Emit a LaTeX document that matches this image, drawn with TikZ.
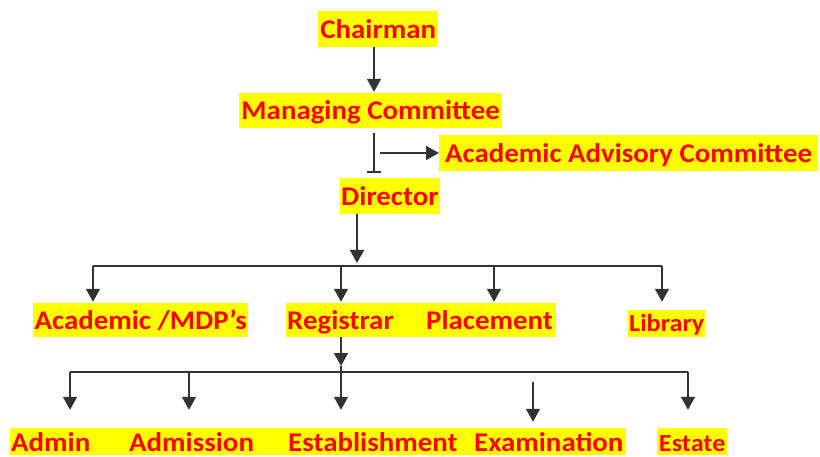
\documentclass[tikz,border=0pt]{standalone}
\usepackage{fontspec}
\setmainfont{Carlito}
\usetikzlibrary{arrows.meta}
\newcommand\sx[1]{\scalebox{1.07}[1]{#1}}
\definecolor{hlyellow}{HTML}{FFFF00}
\definecolor{hlred}{HTML}{FF0000}
\tikzset{
  lab/.style={fill=hlyellow, text=hlred, inner xsep=1pt, inner ysep=0pt, anchor=base west,
    font=\bfseries\fontsize{27}{30}\selectfont},
  labsmall/.style={lab, font=\bfseries\fontsize{24.5}{27}\selectfont},
  tile/.style={align=left},
  ln/.style={draw=black!80, line width=1.8pt},
  arr/.style={ln, -{Triangle[length=13pt,width=14pt]}},
}
\begin{document}
\begin{tikzpicture}[x=1pt,y=-1pt]
\useasboundingbox (0,0) rectangle (820,457);
% top levels
\node[lab, minimum width=120pt, text height=28pt, text depth=8pt] (ch) at (318,39) {\sx{Chairman}};
\node[lab, minimum width=263pt, text height=27pt, text depth=8pt] (mc) at (239,120) {\sx{Managing Committee}};
\node[lab, minimum width=379pt, text height=28pt, text depth=8pt] (aac) at (439,163) {\sx{Academic Advisory Committee}};
\node[lab, minimum width=99pt, text height=28pt, text depth=8pt] (dir) at (340,206) {\sx{Director}};
% third level
\node[lab, minimum width=215pt, text height=27pt, text depth=7pt] (acad) at (33,330) {\sx{Academic /MDP’s}};
\node[lab, tile, text width=137pt, text height=27pt, text depth=7pt] (reg) at (286,330) {\sx{Registrar}};
\node[lab, tile, text width=129pt, text height=27pt, text depth=7pt] (plc) at (425,330) {\sx{Placement}};
\node[labsmall, minimum width=77pt, text height=21pt, text depth=6pt] (lib) at (628,331) {\sx{Library}};
% bottom level
\node[lab, tile, text width=116pt, text height=23pt, text depth=4pt] (adm) at (10,451) {\sx{Admin}};
\node[lab, tile, text width=157pt, text height=23pt, text depth=4pt] (ads) at (128,451) {\sx{Admission}};
\node[lab, tile, text width=184pt, text height=23pt, text depth=4pt] (est) at (287,451) {\sx{Establishment}};
\node[lab, tile, text width=151pt, text height=23pt, text depth=4pt] (exm) at (473,451) {\sx{Examination}};
\node[labsmall, minimum width=70pt, text height=23pt, text depth=4pt] (estt) at (657,451) {\sx{Estate}};
% helper coordinates
\coordinate (x1) at (374,0);
\coordinate (a0) at (380,153);
\coordinate (j1) at (357,266);
\coordinate (bL) at (93,266);
\coordinate (b2) at (341,266);
\coordinate (b3) at (494,266);
\coordinate (bR) at (662,266);
\coordinate (r1) at (341,366);
\coordinate (c1) at (70,372);
\coordinate (c2) at (189,372);
\coordinate (c5) at (688,372);
\coordinate (ex0) at (533,382);
% connectors
\draw[arr, shorten >=1pt] (ch.south -| x1) -- (mc.north -| x1);
\draw[ln, -{Bar[width=14pt]}, shorten <=5pt, shorten >=5pt] (mc.south -| x1) -- (dir.north -| x1);
\draw[arr] (a0) -- (aac.west |- a0);
\draw[arr, shorten >=3pt] (dir.south -| j1) -- (j1);
\draw[ln] (bL) -- (bR);
\draw[arr, shorten >=1pt] (bL) -- (acad.north -| bL);
\draw[arr, shorten >=1pt] (b2) -- (reg.north -| b2);
\draw[arr, shorten >=1pt] (b3) -- (plc.north -| b3);
\draw[arr, shorten >=8pt] (bR) -- (lib.north -| bR);
\draw[arr] (reg.south -| r1) -- (r1);
\draw[ln] (c1) -- (c5);
\draw[arr, shorten >=18pt] (r1) -- (est.north -| r1);
\draw[arr, shorten >=18pt] (c1) -- (adm.north -| c1);
\draw[arr, shorten >=18pt] (c2) -- (ads.north -| c2);
\draw[arr, shorten >=18pt] (c5) -- (estt.north -| c5);
\draw[arr, shorten >=6pt] (ex0) -- (exm.north -| ex0);
\end{tikzpicture}
\end{document}
